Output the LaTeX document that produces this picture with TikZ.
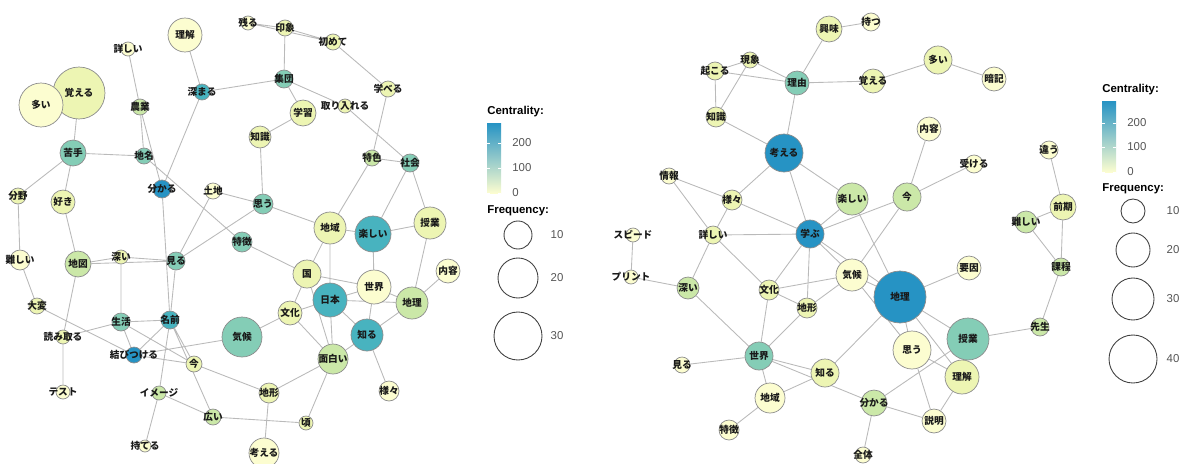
\documentclass[tikz,border=0pt]{standalone}
\usepackage{fontspec}
\newfontfamily\cjk{Noto Sans CJK JP}
\newfontfamily\lgd{Liberation Sans}
\usepackage{xcolor}
\usepackage{tikz}

\definecolor{cA}{HTML}{FCFDD0}
\definecolor{cB}{HTML}{EDF5B3}
\definecolor{cC}{HTML}{CBE8A8}
\definecolor{cD}{HTML}{84CDB6}
\definecolor{cE}{HTML}{48B3BF}
\definecolor{cF}{HTML}{2693C4}
\definecolor{ticktxt}{HTML}{555555}

\pgfdeclarelayer{edges}
\pgfsetlayers{edges,main}

\tikzset{
  kw/.style={circle, draw=black!45, line width=0.4pt, fill=#1, inner sep=0pt},
  rad/.style={minimum size=#1*0.04cm},
  txt/.style={font=\cjk\bfseries\fontsize{5.5}{6}\selectfont, text=black!90, inner sep=0pt},
  edge/.style={draw=black!27, line width=0.5pt},
  lgdhead/.style={font=\lgd\bfseries\fontsize{6.5}{7}\selectfont, anchor=west, inner sep=0pt},
  lgdnum/.style={font=\lgd\fontsize{6.5}{7}\selectfont, text=ticktxt, inner sep=0pt},
  sizering/.style={circle, draw=black!75, line width=0.5pt, inner sep=0pt},
}

\begin{document}
\begin{tikzpicture}[x=0.02cm, y=-0.02cm]
    \useasboundingbox (0,0) rectangle (1185,463);

    % Left network
    \node[kw=cA, rad=7,  label={[txt]center:残る}] (Lnokoru) at (248,23) {};
    \node[kw=cB, rad=8,  label={[txt]center:印象}] (Linsho) at (285,28) {};
    \node[kw=cA, rad=17, label={[txt]center:理解}] (Lrikai) at (185,35) {};
    \node[kw=cA, rad=7,  label={[txt]center:詳しい}] (Lkuwashii) at (128,49) {};
    \node[kw=cB, rad=8,  label={[txt]center:初めて}] (Lhajimete) at (333,42) {};
    \node[kw=cD, rad=9,  label={[txt]center:集団}] (Lshudan) at (284,79) {};
    \node[kw=cE, rad=8,  label={[txt]center:深まる}] (Lfukamaru) at (202,92) {};
    \node[kw=cB, rad=26, label={[txt]center:覚える}] (Loboeru) at (79,93) {};
    \node[kw=cA, rad=22, label={[txt]center:多い}] (Looi) at (41,105) {};
    \node[kw=cC, rad=8,  label={[txt]center:農業}] (Lnogyo) at (140,107) {};
    \node[kw=cB, rad=13, label={[txt]center:学習}] (Lgakushu) at (303,113) {};
    \node[kw=cB, rad=8,  label={[txt]center:学べる}] (Lmanaberu) at (388,89) {};
    \node[kw=cB, rad=7,  label={[txt]center:取り入れる}] (Ltoriireru) at (345,106) {};
    \node[kw=cB, rad=11, label={[txt]center:知識}] (Lchishiki) at (260,137) {};
    \node[kw=cD, rad=13, label={[txt]center:苦手}] (Lnigate) at (73,153) {};
    \node[kw=cD, rad=8,  label={[txt]center:地名}] (Lchimei) at (144,156) {};
    \node[kw=cC, rad=8,  label={[txt]center:特色}] (Ltokushoku) at (372,158) {};
    \node[kw=cD, rad=9,  label={[txt]center:社会}] (Lshakai) at (410,163) {};
    \node[kw=cF, rad=9,  label={[txt]center:分かる}] (Lwakaru) at (162,189) {};
    \node[kw=cA, rad=8,  label={[txt]center:土地}] (Ltochi) at (213,191) {};
    \node[kw=cD, rad=10, label={[txt]center:思う}] (Lomou) at (263,204) {};
    \node[kw=cB, rad=8,  label={[txt]center:分野}] (Lbunya) at (18,196) {};
    \node[kw=cB, rad=12, label={[txt]center:好き}] (Lsuki) at (63,202) {};
    \node[kw=cB, rad=16, label={[txt]center:地域}] (Lchiiki) at (330,228) {};
    \node[kw=cE, rad=18, label={[txt]center:楽しい}] (Ltanoshii) at (373,234) {};
    \node[kw=cB, rad=16, label={[txt]center:授業}] (Ljugyo) at (430,223) {};
    \node[kw=cD, rad=10, label={[txt]center:特徴}] (Ltokucho) at (242,242) {};
    \node[kw=cB, rad=14, label={[txt]center:国}] (Lkuni) at (307,274) {};
    \node[kw=cA, rad=12, label={[txt]center:内容}] (Lnaiyo) at (448,271) {};
    \node[kw=cA, rad=17, label={[txt]center:世界}] (Lsekai) at (374,287) {};
    \node[kw=cE, rad=17, label={[txt]center:日本}] (Lnihon) at (330,300) {};
    \node[kw=cC, rad=16, label={[txt]center:地理}] (Lchiri) at (412,303) {};
    \node[kw=cB, rad=12, label={[txt]center:文化}] (Lbunka) at (290,313) {};
    \node[kw=cD, rad=20, label={[txt]center:気候}] (Lkiko) at (242,337) {};
    \node[kw=cE, rad=16, label={[txt]center:知る}] (Lshiru) at (367,335) {};
    \node[kw=cC, rad=15, label={[txt]center:面白い}] (Lomoshiroi) at (333,359) {};
    \node[kw=cA, rad=10, label={[txt]center:様々}] (Lsamazama) at (389,391) {};
    \node[kw=cB, rad=7,  label={[txt]center:頃}] (Lkoro) at (306,423) {};
    \node[kw=cA, rad=10, label={[txt]center:難しい}] (Lmuzukashii) at (20,260) {};
    \node[kw=cC, rad=13, label={[txt]center:地図}] (Lchizu) at (78,264) {};
    \node[kw=cB, rad=7,  label={[txt]center:深い}] (Lfukai) at (121,257) {};
    \node[kw=cD, rad=9,  label={[txt]center:見る}] (Lmiru) at (176,261) {};
    \node[kw=cB, rad=8,  label={[txt]center:大変}] (Ltaihen) at (37,306) {};
    \node[kw=cD, rad=9,  label={[txt]center:生活}] (Lseikatsu) at (121,322) {};
    \node[kw=cE, rad=9,  label={[txt]center:名前}] (Lnamae) at (170,320) {};
    \node[kw=cB, rad=7,  label={[txt]center:読み取る}] (Lyomitoru) at (63,337) {};
    \node[kw=cF, rad=8,  label={[txt]center:結びつける}] (Lmusubi) at (134,355) {};
    \node[kw=cB, rad=8,  label={[txt]center:今}] (Lima) at (194,364) {};
    \node[kw=cA, rad=7,  label={[txt]center:テスト}] (Ltesuto) at (63,392) {};
    \node[kw=cC, rad=7,  label={[txt]center:イメージ}] (Limeji) at (159,393) {};
    \node[kw=cB, rad=10, label={[txt]center:地形}] (Lchikei) at (269,393) {};
    \node[kw=cC, rad=8,  label={[txt]center:広い}] (Lhiroi) at (213,417) {};
    \node[kw=cA, rad=6,  label={[txt]center:持てる}] (Lmoteru) at (145,446) {};
    \node[kw=cA, rad=15, label={[txt]center:考える}] (Lkangaeru) at (264,453) {};

    \begin{pgfonlayer}{edges}
    \draw[edge] (Lnokoru) -- (Linsho) (Lnokoru) -- (Lhajimete) (Linsho) -- (Lhajimete)
        (Linsho) -- (Lshudan) (Lrikai) -- (Lfukamaru) (Lfukamaru) -- (Lshudan)
        (Lfukamaru) -- (Lwakaru) (Lkuwashii) -- (Lnogyo) (Lnogyo) -- (Lchimei)
        (Lnogyo) -- (Lwakaru) (Lchimei) -- (Ltokucho) (Lnigate) -- (Loboeru)
        (Lnigate) -- (Lchimei) (Lnigate) -- (Lbunya) (Lnigate) -- (Lsuki)
        (Lwakaru) -- (Lnamae) (Ltochi) -- (Lomou) (Ltochi) -- (Lmiru)
        (Lomou) -- (Lmiru) (Lomou) -- (Lchishiki) (Lomou) -- (Lchiiki)
        (Lchishiki) -- (Lgakushu) (Lgakushu) -- (Lshudan) (Lshudan) -- (Ltoriireru)
        (Ltoriireru) -- (Lshakai) (Lhajimete) -- (Lmanaberu) (Lmanaberu) -- (Ltokushoku)
        (Ltokushoku) -- (Lshakai) (Ltokushoku) -- (Lchiiki) (Lshakai) -- (Ltanoshii)
        (Lshakai) -- (Ljugyo) (Ljugyo) -- (Ltanoshii) (Ljugyo) -- (Lchiri);
    \draw[edge] (Lchiri) -- (Lnaiyo) (Lchiri) -- (Lsekai) (Lchiri) -- (Lshiru)
        (Lsekai) -- (Ltanoshii) (Lsekai) -- (Lnihon) (Lsekai) -- (Lkuni)
        (Lsekai) -- (Lshiru) (Lnihon) -- (Lchiri) (Lnihon) -- (Lshiru)
        (Lnihon) -- (Lomoshiroi) (Lnihon) -- (Lbunka) (Lnihon) -- (Lchiiki)
        (Lchiiki) -- (Lkuni) (Lchiiki) -- (Ltanoshii) (Lkuni) -- (Ltokucho)
        (Lkuni) -- (Lbunka) (Lkuni) -- (Lomoshiroi) (Lbunka) -- (Lkiko)
        (Lbunka) -- (Lomoshiroi) (Lomoshiroi) -- (Lshiru) (Lomoshiroi) -- (Lchikei)
        (Lomoshiroi) -- (Lkoro) (Lshiru) -- (Lsamazama) (Lkiko) -- (Lmusubi)
        (Lchikei) -- (Lima) (Lchikei) -- (Lkangaeru) (Lhiroi) -- (Lkoro)
        (Lhiroi) -- (Limeji) (Lhiroi) -- (Lnamae) (Lima) -- (Lseikatsu)
        (Lima) -- (Lnamae) (Lima) -- (Lmusubi) (Lseikatsu) -- (Lnamae)
        (Lseikatsu) -- (Lfukai) (Lseikatsu) -- (Lyomitoru) (Lseikatsu) -- (Lmusubi)
        (Lnamae) -- (Lmusubi) (Lnamae) -- (Lmiru) (Lnamae) -- (Limeji)
        (Limeji) -- (Lmoteru) (Lfukai) -- (Lchizu) (Lfukai) -- (Lmiru)
        (Lchizu) -- (Lmiru) (Lchizu) -- (Lsuki) (Lchizu) -- (Lyomitoru)
        (Lyomitoru) -- (Ltesuto) (Ltaihen) -- (Lmuzukashii) (Ltaihen) -- (Lmusubi)
        (Lmuzukashii) -- (Lbunya);
    \end{pgfonlayer}

    % Right network
    \node[kw=cB, rad=13, label={[txt]center:興味}] (Rkyomi) at (829,29) {};
    \node[kw=cA, rad=9,  label={[txt]center:持つ}] (Rmotsu) at (871,22) {};
    \node[kw=cB, rad=8,  label={[txt]center:現象}] (Rgensho) at (750,60) {};
    \node[kw=cB, rad=9,  label={[txt]center:起こる}] (Rokoru) at (715,71) {};
    \node[kw=cD, rad=12, label={[txt]center:理由}] (Rriyu) at (797,83) {};
    \node[kw=cB, rad=12, label={[txt]center:覚える}] (Roboeru) at (873,81) {};
    \node[kw=cB, rad=14, label={[txt]center:多い}] (Rooi) at (938,60) {};
    \node[kw=cA, rad=12, label={[txt]center:暗記}] (Ranki) at (994,79) {};
    \node[kw=cB, rad=10, label={[txt]center:知識}] (Rchishiki) at (716,117) {};
    \node[kw=cF, rad=19, label={[txt]center:考える}] (Rkangaeru) at (784,153) {};
    \node[kw=cA, rad=12, label={[txt]center:内容}] (Rnaiyo) at (929,129) {};
    \node[kw=cA, rad=9,  label={[txt]center:受ける}] (Rukeru) at (974,164) {};
    \node[kw=cA, rad=8,  label={[txt]center:情報}] (Rjoho) at (669,176) {};
    \node[kw=cB, rad=10, label={[txt]center:様々}] (Rsamazama) at (732,200) {};
    \node[kw=cC, rad=16, label={[txt]center:楽しい}] (Rtanoshii) at (852,199) {};
    \node[kw=cC, rad=14, label={[txt]center:今}] (Rima) at (907,197) {};
    \node[kw=cA, rad=9,  label={[txt]center:違う}] (Rchigau) at (1049,150) {};
    \node[kw=cB, rad=13, label={[txt]center:前期}] (Rzenki) at (1063,207) {};
    \node[kw=cC, rad=11, label={[txt]center:難しい}] (Rmuzukashii) at (1026,222) {};
    \node[kw=cA, rad=7,  label={[txt]center:スピード}] (Rsupido) at (633,235) {};
    \node[kw=cB, rad=9,  label={[txt]center:詳しい}] (Rkuwashii) at (713,235) {};
    \node[kw=cF, rad=14, label={[txt]center:学ぶ}] (Rmanabu) at (810,234) {};
    \node[kw=cA, rad=7,  label={[txt]center:プリント}] (Rpurinto) at (631,277) {};
    \node[kw=cC, rad=11, label={[txt]center:深い}] (Rfukai) at (688,288) {};
    \node[kw=cB, rad=10, label={[txt]center:文化}] (Rbunka) at (769,290) {};
    \node[kw=cA, rad=16, label={[txt]center:気候}] (Rkiko) at (852,275) {};
    \node[kw=cB, rad=10, label={[txt]center:地形}] (Rchikei) at (807,308) {};
    \node[kw=cA, rad=12, label={[txt]center:要因}] (Ryoin) at (969,268) {};
    \node[kw=cC, rad=9,  label={[txt]center:課程}] (Rkatei) at (1061,267) {};
    \node[kw=cF, rad=26, label={[txt]center:地理}] (Rchiri) at (900,297) {};
    \node[kw=cC, rad=9,  label={[txt]center:先生}] (Rsensei) at (1040,327) {};
    \node[kw=cD, rad=21, label={[txt]center:授業}] (Rjugyo) at (968,339) {};
    \node[kw=cA, rad=19, label={[txt]center:思う}] (Romou) at (912,350) {};
    \node[kw=cB, rad=17, label={[txt]center:理解}] (Rrikai) at (962,377) {};
    \node[kw=cA, rad=12, label={[txt]center:説明}] (Rsetsumei) at (934,421) {};
    \node[kw=cD, rad=14, label={[txt]center:世界}] (Rsekai) at (759,356) {};
    \node[kw=cA, rad=8,  label={[txt]center:見る}] (Rmiru) at (682,365) {};
    \node[kw=cB, rad=14, label={[txt]center:知る}] (Rshiru) at (825,373) {};
    \node[kw=cA, rad=15, label={[txt]center:地域}] (Rchiiki) at (770,398) {};
    \node[kw=cC, rad=13, label={[txt]center:分かる}] (Rwakaru) at (874,403) {};
    \node[kw=cA, rad=10, label={[txt]center:特徴}] (Rtokucho) at (729,430) {};
    \node[kw=cA, rad=8,  label={[txt]center:全体}] (Rzentai) at (863,455) {};

    \begin{pgfonlayer}{edges}
    \draw[edge] (Rkyomi) -- (Rmotsu) (Rkyomi) -- (Rriyu) (Rriyu) -- (Rgensho)
        (Rriyu) -- (Rokoru) (Rriyu) -- (Roboeru) (Rriyu) -- (Rkangaeru)
        (Roboeru) -- (Rooi) (Rooi) -- (Ranki) (Rgensho) -- (Rokoru)
        (Rgensho) -- (Rchishiki) (Rokoru) -- (Rchishiki) (Rchishiki) -- (Rkangaeru)
        (Rkangaeru) -- (Rsamazama) (Rkangaeru) -- (Rtanoshii) (Rkangaeru) -- (Rmanabu)
        (Rjoho) -- (Rsamazama) (Rjoho) -- (Rkuwashii) (Rsamazama) -- (Rkuwashii)
        (Rsamazama) -- (Rmanabu) (Rtanoshii) -- (Rmanabu) (Rtanoshii) -- (Rchiri)
        (Rima) -- (Rmanabu) (Rima) -- (Rkiko) (Rima) -- (Rnaiyo) (Rima) -- (Rukeru)
        (Rmanabu) -- (Rkuwashii) (Rmanabu) -- (Rbunka) (Rmanabu) -- (Rchikei)
        (Rmanabu) -- (Rkiko) (Rmanabu) -- (Rchiri);
    \draw[edge] (Rkiko) -- (Rbunka) (Rkiko) -- (Rchikei) (Rkiko) -- (Rchiri)
        (Rkiko) -- (Romou) (Rbunka) -- (Rkuwashii) (Rbunka) -- (Rchikei)
        (Rbunka) -- (Rsekai) (Rchikei) -- (Rsekai) (Rfukai) -- (Rkuwashii)
        (Rfukai) -- (Rpurinto) (Rfukai) -- (Rsekai) (Rpurinto) -- (Rsupido)
        (Rsekai) -- (Rmiru) (Rsekai) -- (Rshiru) (Rsekai) -- (Rwakaru)
        (Rsekai) -- (Rchiiki) (Rshiru) -- (Rchiiki) (Rshiru) -- (Rchiri)
        (Rchiiki) -- (Rtokucho) (Rwakaru) -- (Rzentai) (Rwakaru) -- (Rsetsumei)
        (Rwakaru) -- (Rjugyo) (Rchiri) -- (Ryoin) (Rchiri) -- (Rjugyo)
        (Rchiri) -- (Romou) (Rchiri) -- (Rrikai) (Romou) -- (Rrikai)
        (Romou) -- (Rsetsumei) (Rrikai) -- (Rsetsumei) (Rjugyo) -- (Rsensei)
        (Rsensei) -- (Rkatei) (Rkatei) -- (Rzenki) (Rkatei) -- (Rmuzukashii)
        (Rzenki) -- (Rmuzukashii) (Rzenki) -- (Rchigau);
    \end{pgfonlayer}

    % Legend, left network
    \node[lgdhead] (LcentHead) at (487,112) {Centrality:};
    \shade[top color=cF, middle color=cD!70!cC, bottom color=cA] (487,123) rectangle (501,193);
    \foreach \ty/\tv in {143/200, 168/100, 193/0} {
        \draw[white, line width=0.4pt] (487,\ty) -- (490,\ty) (498,\ty) -- (501,\ty);
        \node[lgdnum, anchor=west] at (512,\ty) {\tv};
    }
    \node[lgdhead] (LfreqHead) at (487,211) {Frequency:};
    \node[sizering, minimum size=28*0.02cm] (Lring10) at (518,235) {};
    \node[sizering, minimum size=40*0.02cm] (Lring20) at (518,278) {};
    \node[sizering, minimum size=48*0.02cm] (Lring30) at (518,336) {};
    \node[lgdnum] at (557,235) {10};
    \node[lgdnum] at (557,278) {20};
    \node[lgdnum] at (557,336) {30};

    % Legend, right network
    \node[lgdhead] (RcentHead) at (1102,90) {Centrality:};
    \shade[top color=cF, middle color=cD!70!cC, bottom color=cA] (1102,101) rectangle (1116,172);
    \foreach \ty/\tv in {123/200, 147/100, 172/0} {
        \draw[white, line width=0.4pt] (1102,\ty) -- (1105,\ty) (1113,\ty) -- (1116,\ty);
        \node[lgdnum, anchor=west] at (1127,\ty) {\tv};
    }
    \node[lgdhead] (RfreqHead) at (1102,189) {Frequency:};
    \node[sizering, minimum size=24*0.02cm] (Rring10) at (1133,211) {};
    \node[sizering, minimum size=34*0.02cm] (Rring20) at (1133,250) {};
    \node[sizering, minimum size=42*0.02cm] (Rring30) at (1133,299) {};
    \node[sizering, minimum size=48*0.02cm] (Rring40) at (1133,359) {};
    \node[lgdnum] at (1173,211) {10};
    \node[lgdnum] at (1173,250) {20};
    \node[lgdnum] at (1173,299) {30};
    \node[lgdnum] at (1173,359) {40};
\end{tikzpicture}
\end{document}
